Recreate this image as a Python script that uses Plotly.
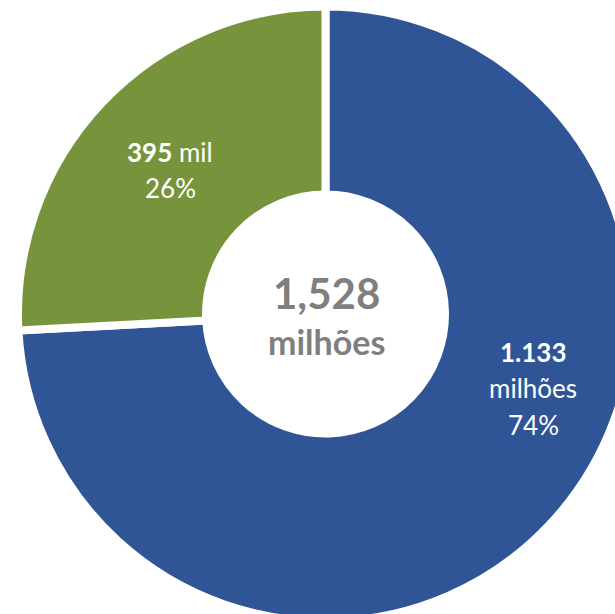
import plotly.graph_objects as go

# Data
categories = ["Azul", "Verde"]
values = [1133, 395]            # milhares
value_labels = ["1.133", "395"]
unit_labels = ["milhões", "mil"]
colors = ["#2F5597", "#77933C"]
total_label = "1,528"
total_unit = "milhões"

total = sum(values)
pcts = [f"{round(v / total * 100)}%" for v in values]

W, H = 660, 660
CX, CY = 325.5, 314.0     # centre in px (from top-left)
R = 307.5                 # outer radius incl. stroke
LINE = 8

fig = go.Figure(go.Pie(
    labels=categories,
    values=values,
    hole=119.5 / R,
    sort=False,
    direction="clockwise",
    rotation=0,
    marker=dict(colors=colors, line=dict(color="white", width=LINE)),
    textinfo="none",
    hoverinfo="label+value+percent",
    showlegend=False,
    domain=dict(x=[(CX - R) / W, (CX + R) / W],
                y=[(H - CY - R) / H, (H - CY + R) / H]),
))

def px(x, y):
    return x / W, 1 - y / H

FONT = "Lato, 'Open Sans', sans-serif"
anns = []
def add(x, y, text, size, color):
    ax, ay = px(x, y)
    anns.append(dict(x=ax, y=ay, xref="paper", yref="paper", text=text,
                     showarrow=False, xanchor="center", yanchor="middle",
                     font=dict(family=FONT, size=size, color=color)))

LS = 26
# green slice labels
add(170, 152, f"<b>{value_labels[1]}</b> {unit_labels[1]}", LS, "white")
add(170, 188, pcts[1], LS, "white")
# blue slice labels
add(533, 352, f"<b>{value_labels[0]}</b>", LS, "white")
add(533, 388, unit_labels[0], LS, "white")
add(533, 425, pcts[0], LS, "white")
# centre
add(326, 293, f"<b>{total_label}</b>", 42, "#7F7F7F")
add(326, 341, f"<b>{total_unit}</b>", 34, "#7F7F7F")

fig.update_layout(
    width=W, height=H,
    margin=dict(l=0, r=0, t=0, b=0),
    paper_bgcolor="white",
    plot_bgcolor="white",
    annotations=anns,
)

fig.write_html(
    "out.html",
    config={"displayModeBar": False},
    post_script="document.body.style.margin='0';document.body.style.overflow='hidden';document.documentElement.style.overflow='hidden';",
)
